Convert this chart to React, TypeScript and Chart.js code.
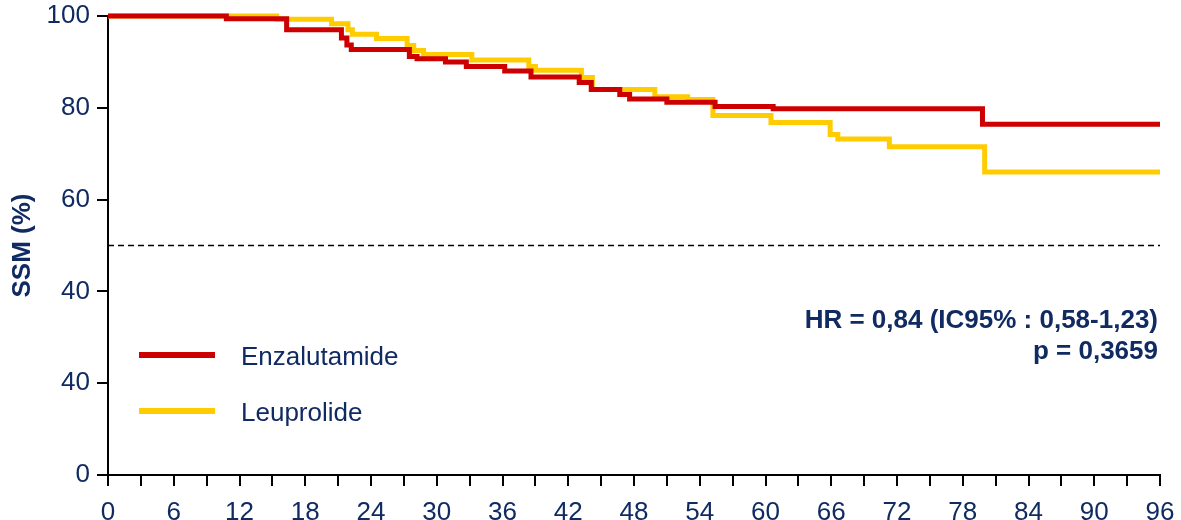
import React, { useEffect, useRef } from "react";
import { Chart, registerables } from "chart.js";

Chart.register(...registerables);

// ---- Data ----
const xTickLabels = ["0", "6", "12", "18", "24", "30", "36", "42", "48", "54", "60", "66", "72", "78", "84", "90", "96"];
const yTickLabels = ["0", "40", "40", "60", "80", "100"];

const enzaTimes = [0, 10.8, 16.3, 21.3, 21.8, 22.2, 27.5, 28.2, 30.8, 32.7, 36.2, 38.6, 43.0, 44.1, 46.7, 47.6, 51.0, 55.4, 60.7, 79.8, 96];
const enzaSurv = [100, 99.4, 97.0, 95.2, 93.7, 92.7, 91.2, 90.7, 90.0, 89.0, 88.0, 86.7, 85.5, 84.0, 82.9, 81.9, 81.2, 80.3, 79.8, 76.4, 76.4];

const leuproTimes = [0, 15.4, 20.4, 21.9, 22.3, 24.5, 27.3, 27.9, 28.8, 33.2, 38.4, 39.0, 43.2, 44.2, 49.9, 52.9, 55.2, 60.5, 65.9, 66.6, 71.3, 80.0, 96];
const leuproSurv = [100, 99.3, 98.3, 97.0, 96.0, 95.1, 93.6, 92.5, 91.6, 90.4, 89.0, 88.2, 86.6, 84.0, 82.4, 81.8, 78.3, 76.8, 74.2, 73.2, 71.5, 66.0, 66.0];

const refTimes = [0, 96];
const refLevel = [50, 50];

const seriesNames = ["Enzalutamide", "Leuprolide"];
const seriesColors = ["#cc0000", "#ffcc00"];
const hrText = "HR = 0,84 (IC95% : 0,58-1,23)";
const pText = "p = 0,3659";
const yTitle = "SSM (%)";

const NAVY = "#102a62";
const FONT = "'Liberation Sans', Arial, sans-serif";

const toPoints = (xs: number[], ys: number[]) => xs.map((x, i) => ({ x, y: ys[i] }));

const annotations = {
  id: "annotations",
  afterDraw(chart: any) {
    const { ctx, chartArea } = chart;
    ctx.save();
    // legend
    const legendY = [355, 411];
    seriesNames.forEach((name, i) => {
      ctx.strokeStyle = seriesColors[i];
      ctx.lineWidth = 6;
      ctx.lineCap = "butt";
      ctx.beginPath();
      ctx.moveTo(chartArea.left + 31, legendY[i]);
      ctx.lineTo(chartArea.left + 107, legendY[i]);
      ctx.stroke();
      ctx.fillStyle = NAVY;
      ctx.font = `26px ${FONT}`;
      ctx.textAlign = "left";
      ctx.textBaseline = "alphabetic";
      ctx.fillText(name, chartArea.left + 133, legendY[i] + 10);
    });
    // HR text
    ctx.fillStyle = NAVY;
    ctx.font = `bold 26px ${FONT}`;
    ctx.textAlign = "right";
    ctx.textBaseline = "alphabetic";
    ctx.fillText(hrText, chartArea.right - 2, 328);
    ctx.fillText(pText, chartArea.right - 2, 359);
    ctx.restore();
  },
};

export default function App() {
  const ref = useRef<HTMLCanvasElement>(null);
  useEffect(() => {
    document.body.style.margin = "0";
    const canvas = ref.current!;
    const chart = new Chart(canvas, {
      type: "line",
      data: {
        datasets: [
          {
            label: seriesNames[0],
            data: toPoints(enzaTimes, enzaSurv),
            borderColor: seriesColors[0],
            borderWidth: 5,
            stepped: "before",
            pointRadius: 0,
            fill: false,
            clip: false as any,
            borderJoinStyle: "miter",
          },
          {
            label: seriesNames[1],
            data: toPoints(leuproTimes, leuproSurv),
            borderColor: seriesColors[1],
            borderWidth: 5,
            stepped: "before",
            pointRadius: 0,
            fill: false,
            clip: false as any,
            borderJoinStyle: "miter",
          },
          {
            label: "ref",
            data: toPoints(refTimes, refLevel),
            borderColor: "#000000",
            borderWidth: 1.6,
            borderDash: [6, 4],
            pointRadius: 0,
            fill: false,
          },
        ],
      },
      options: {
        animation: false,
        responsive: false,
        devicePixelRatio: 1,
        layout: { padding: { top: 16, right: 21, left: 0, bottom: 0 } },
        plugins: { legend: { display: false }, tooltip: { enabled: false } },
        scales: {
          x: {
            type: "linear",
            min: 0,
            max: 96,
            afterFit: (s: any) => {
              s.height = 45;
              s.paddingLeft = 0;
              s.paddingRight = 0;
            },
            afterBuildTicks: (s: any) => {
              const t = [];
              for (let v = 0; v <= 96; v += 3) t.push({ value: v });
              s.ticks = t;
            },
            ticks: {
              autoSkip: false,
              maxRotation: 0,
              padding: 11,
              color: NAVY,
              font: { family: FONT, size: 26 },
              callback: (v: any) => (Number(v) % 6 === 0 ? xTickLabels[Number(v) / 6] : ""),
            },
            grid: { drawOnChartArea: false, drawTicks: true, tickLength: 11, color: "#000", lineWidth: 2 },
            border: { display: true, color: "#000", width: 2 },
          },
          y: {
            type: "linear",
            min: 0,
            max: 100,
            afterFit: (s: any) => {
              s.width = 108;
              s.paddingTop = 0;
              s.paddingBottom = 0;
            },
            ticks: {
              stepSize: 20,
              padding: 7,
              color: NAVY,
              font: { family: FONT, size: 26 },
              callback: (_v: any, i: number) => yTickLabels[i],
            },
            title: {
              display: true,
              text: yTitle,
              color: NAVY,
              font: { family: FONT, size: 26, weight: "bold" },
              padding: { top: 7, bottom: 0 },
            },
            grid: { drawOnChartArea: false, drawTicks: true, tickLength: 11, color: "#000", lineWidth: 2 },
            border: { display: true, color: "#000", width: 2 },
          },
        },
      },
      plugins: [annotations],
    });
    return () => chart.destroy();
  }, []);
  return (
    <div style={{ width: 1181, height: 520 }}>
      <canvas ref={ref} width={1181} height={520} style={{ display: "block" }} />
    </div>
  );
}
